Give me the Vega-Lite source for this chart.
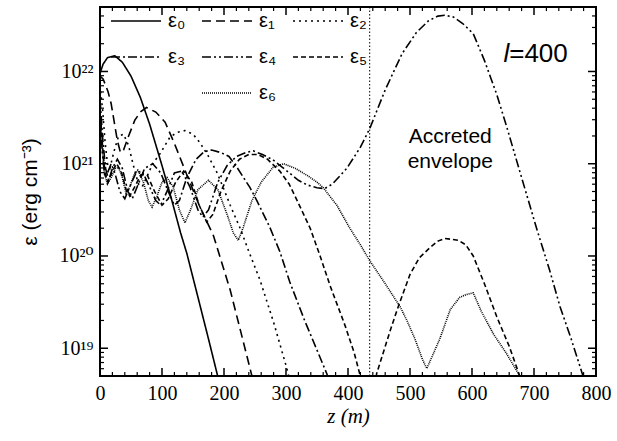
{
  "$schema": "https://vega.github.io/schema/vega-lite/v6.json",
  "width": 496,
  "height": 369,
  "autosize": {"type": "none"},
  "padding": {"left": 100, "top": 7, "right": 21, "bottom": 65},
  "background": "white",
  "config": {
    "view": {"stroke": "black", "strokeWidth": 2},
    "font": "Liberation Sans",
    "axis": {"grid": false, "domainColor": "black", "labelColor": "black", "titleColor": "black", "titleFontWeight": "normal"}
  },
  "datasets": {
    "xmaj": [{"t":0},{"t":100},{"t":200},{"t":300},{"t":400},{"t":500},{"t":600},{"t":700},{"t":800}],
    "xmin": [{"t":20},{"t":40},{"t":60},{"t":80},{"t":120},{"t":140},{"t":160},{"t":180},{"t":220},{"t":240},{"t":260},{"t":280},{"t":320},{"t":340},{"t":360},{"t":380},{"t":420},{"t":440},{"t":460},{"t":480},{"t":520},{"t":540},{"t":560},{"t":580},{"t":620},{"t":640},{"t":660},{"t":680},{"t":720},{"t":740},{"t":760},{"t":780}],
    "ymaj": [{"v":1e19},{"v":1e20},{"v":1e21},{"v":1e22}],
    "ymin": [{"v":6e18},{"v":7e18},{"v":8e18},{"v":9e18},{"v":2e19},{"v":3e19},{"v":4e19},{"v":5e19},{"v":6e19},{"v":7e19},{"v":8e19},{"v":9e19},{"v":2e20},{"v":3e20},{"v":4e20},{"v":5e20},{"v":6e20},{"v":7e20},{"v":8e20},{"v":9e20},{"v":2e21},{"v":3e21},{"v":4e21},{"v":5e21},{"v":6e21},{"v":7e21},{"v":8e21},{"v":9e21},{"v":2e22},{"v":3e22},{"v":4e22}],
    "curves": [
      {"m":"ε₀","z":0,"e":9.55e21},{"m":"ε₀","z":5,"e":1.20e22},{"m":"ε₀","z":12,"e":1.41e22},{"m":"ε₀","z":24,"e":1.48e22},{"m":"ε₀","z":36,"e":1.26e22},{"m":"ε₀","z":50,"e":8.91e21},{"m":"ε₀","z":65,"e":5.25e21},{"m":"ε₀","z":80,"e":2.69e21},{"m":"ε₀","z":100,"e":9.55e20},{"m":"ε₀","z":116,"e":3.98e20},{"m":"ε₀","z":130,"e":1.78e20},{"m":"ε₀","z":140,"e":1.07e20},{"m":"ε₀","z":160,"e":3.16e19},{"m":"ε₀","z":175,"e":1.26e19},{"m":"ε₀","z":189,"e":5.25e18},{"m":"ε₀","z":195,"e":3.55e18},

      {"m":"ε₁","z":0,"e":8.91e21},{"m":"ε₁","z":5,"e":8.32e21},{"m":"ε₁","z":13,"e":6.03e21},{"m":"ε₁","z":18,"e":4.47e21},{"m":"ε₁","z":23,"e":2.82e21},{"m":"ε₁","z":28,"e":1.78e21},{"m":"ε₁","z":33,"e":1.32e21},{"m":"ε₁","z":38,"e":1.41e21},{"m":"ε₁","z":45,"e":1.91e21},{"m":"ε₁","z":56,"e":2.95e21},{"m":"ε₁","z":65,"e":3.63e21},{"m":"ε₁","z":75,"e":4.07e21},{"m":"ε₁","z":90,"e":3.63e21},{"m":"ε₁","z":105,"e":2.82e21},{"m":"ε₁","z":120,"e":1.66e21},{"m":"ε₁","z":140,"e":7.59e20},{"m":"ε₁","z":160,"e":3.55e20},{"m":"ε₁","z":183,"e":1.66e20},{"m":"ε₁","z":210,"e":4.27e19},{"m":"ε₁","z":230,"e":1.26e19},{"m":"ε₁","z":245,"e":5.01e18},{"m":"ε₁","z":250,"e":3.55e18},

      {"m":"ε₂","z":0,"e":7.08e21},{"m":"ε₂","z":4,"e":3.98e21},{"m":"ε₂","z":8,"e":1.78e21},{"m":"ε₂","z":12,"e":1.0e21},{"m":"ε₂","z":16,"e":8.91e20},{"m":"ε₂","z":22,"e":1.32e21},{"m":"ε₂","z":30,"e":2.0e21},{"m":"ε₂","z":38,"e":2.09e21},{"m":"ε₂","z":46,"e":1.58e21},{"m":"ε₂","z":55,"e":8.91e20},{"m":"ε₂","z":62,"e":6.03e20},{"m":"ε₂","z":68,"e":5.62e20},{"m":"ε₂","z":75,"e":7.08e20},{"m":"ε₂","z":85,"e":1.0e21},{"m":"ε₂","z":97,"e":1.29e21},{"m":"ε₂","z":113,"e":1.95e21},{"m":"ε₂","z":125,"e":2.19e21},{"m":"ε₂","z":137,"e":2.29e21},{"m":"ε₂","z":150,"e":2.09e21},{"m":"ε₂","z":161,"e":1.70e21},{"m":"ε₂","z":175,"e":1.20e21},{"m":"ε₂","z":189,"e":7.94e20},{"m":"ε₂","z":200,"e":5.25e20},{"m":"ε₂","z":210,"e":3.55e20},{"m":"ε₂","z":226,"e":2.0e20},{"m":"ε₂","z":240,"e":1.12e20},{"m":"ε₂","z":258,"e":5.50e19},{"m":"ε₂","z":280,"e":1.91e19},{"m":"ε₂","z":301,"e":6.17e18},{"m":"ε₂","z":306,"e":4.47e18},

      {"m":"ε₃","z":0,"e":5.01e21},{"m":"ε₃","z":4,"e":2.0e21},{"m":"ε₃","z":9,"e":8.91e20},{"m":"ε₃","z":14,"e":6.61e20},{"m":"ε₃","z":20,"e":8.91e20},{"m":"ε₃","z":28,"e":1.12e21},{"m":"ε₃","z":36,"e":8.91e20},{"m":"ε₃","z":45,"e":5.01e20},{"m":"ε₃","z":52,"e":4.17e20},{"m":"ε₃","z":60,"e":5.62e20},{"m":"ε₃","z":72,"e":8.91e20},{"m":"ε₃","z":85,"e":1.0e21},{"m":"ε₃","z":98,"e":7.94e20},{"m":"ε₃","z":110,"e":5.01e20},{"m":"ε₃","z":120,"e":3.55e20},{"m":"ε₃","z":128,"e":3.98e20},{"m":"ε₃","z":140,"e":7.08e20},{"m":"ε₃","z":155,"e":1.12e21},{"m":"ε₃","z":168,"e":1.35e21},{"m":"ε₃","z":180,"e":1.41e21},{"m":"ε₃","z":195,"e":1.32e21},{"m":"ε₃","z":208,"e":1.20e21},{"m":"ε₃","z":221,"e":9.12e20},{"m":"ε₃","z":242,"e":5.50e20},{"m":"ε₃","z":253,"e":3.98e20},{"m":"ε₃","z":274,"e":2.04e20},{"m":"ε₃","z":290,"e":1.12e20},{"m":"ε₃","z":306,"e":5.25e19},{"m":"ε₃","z":330,"e":2.0e19},{"m":"ε₃","z":350,"e":9.55e18},{"m":"ε₃","z":366,"e":5.25e18},{"m":"ε₃","z":372,"e":3.98e18},

      {"m":"ε₄","z":0,"e":3.16e21},{"m":"ε₄","z":4,"e":1.26e21},{"m":"ε₄","z":8,"e":7.08e20},{"m":"ε₄","z":12,"e":7.94e20},{"m":"ε₄","z":18,"e":1.0e21},{"m":"ε₄","z":24,"e":7.94e20},{"m":"ε₄","z":32,"e":5.01e20},{"m":"ε₄","z":40,"e":4.17e20},{"m":"ε₄","z":48,"e":5.62e20},{"m":"ε₄","z":58,"e":7.94e20},{"m":"ε₄","z":68,"e":8.32e20},{"m":"ε₄","z":80,"e":5.62e20},{"m":"ε₄","z":90,"e":3.98e20},{"m":"ε₄","z":98,"e":3.55e20},{"m":"ε₄","z":108,"e":5.01e20},{"m":"ε₄","z":120,"e":7.94e20},{"m":"ε₄","z":132,"e":8.32e20},{"m":"ε₄","z":145,"e":5.62e20},{"m":"ε₄","z":158,"e":3.16e20},{"m":"ε₄","z":166,"e":2.63e20},{"m":"ε₄","z":175,"e":3.16e20},{"m":"ε₄","z":190,"e":6.31e20},{"m":"ε₄","z":205,"e":9.55e20},{"m":"ε₄","z":220,"e":1.20e21},{"m":"ε₄","z":235,"e":1.32e21},{"m":"ε₄","z":247,"e":1.38e21},{"m":"ε₄","z":262,"e":1.26e21},{"m":"ε₄","z":279,"e":1.10e21},{"m":"ε₄","z":300,"e":8.51e20},{"m":"ε₄","z":320,"e":6.61e20},{"m":"ε₄","z":334,"e":5.89e20},{"m":"ε₄","z":350,"e":5.50e20},{"m":"ε₄","z":362,"e":5.37e20},{"m":"ε₄","z":375,"e":6.03e20},{"m":"ε₄","z":398,"e":8.91e20},{"m":"ε₄","z":420,"e":1.51e21},{"m":"ε₄","z":435,"e":2.40e21},{"m":"ε₄","z":460,"e":6.31e21},{"m":"ε₄","z":487,"e":1.55e22},{"m":"ε₄","z":510,"e":2.63e22},{"m":"ε₄","z":530,"e":3.55e22},{"m":"ε₄","z":545,"e":3.98e22},{"m":"ε₄","z":556,"e":4.07e22},{"m":"ε₄","z":570,"e":3.89e22},{"m":"ε₄","z":585,"e":3.31e22},{"m":"ε₄","z":602,"e":2.57e22},{"m":"ε₄","z":620,"e":1.32e22},{"m":"ε₄","z":640,"e":5.62e21},{"m":"ε₄","z":656,"e":2.51e21},{"m":"ε₄","z":680,"e":7.08e20},{"m":"ε₄","z":705,"e":1.91e20},{"m":"ε₄","z":725,"e":7.08e19},{"m":"ε₄","z":742,"e":2.82e19},{"m":"ε₄","z":760,"e":1.26e19},{"m":"ε₄","z":779,"e":5.01e18},{"m":"ε₄","z":785,"e":3.72e18},

      {"m":"ε₅","z":0,"e":3.98e21},{"m":"ε₅","z":4,"e":1.58e21},{"m":"ε₅","z":8,"e":7.94e20},{"m":"ε₅","z":13,"e":6.31e20},{"m":"ε₅","z":20,"e":8.32e20},{"m":"ε₅","z":27,"e":1.0e21},{"m":"ε₅","z":35,"e":7.94e20},{"m":"ε₅","z":42,"e":5.25e20},{"m":"ε₅","z":48,"e":4.47e20},{"m":"ε₅","z":56,"e":5.62e20},{"m":"ε₅","z":66,"e":7.59e20},{"m":"ε₅","z":76,"e":7.59e20},{"m":"ε₅","z":88,"e":5.01e20},{"m":"ε₅","z":100,"e":3.55e20},{"m":"ε₅","z":110,"e":4.17e20},{"m":"ε₅","z":122,"e":6.31e20},{"m":"ε₅","z":135,"e":8.32e20},{"m":"ε₅","z":148,"e":6.31e20},{"m":"ε₅","z":160,"e":3.55e20},{"m":"ε₅","z":172,"e":2.34e20},{"m":"ε₅","z":182,"e":2.82e20},{"m":"ε₅","z":195,"e":5.01e20},{"m":"ε₅","z":210,"e":8.32e20},{"m":"ε₅","z":225,"e":1.12e21},{"m":"ε₅","z":240,"e":1.26e21},{"m":"ε₅","z":255,"e":1.26e21},{"m":"ε₅","z":270,"e":1.12e21},{"m":"ε₅","z":290,"e":8.32e20},{"m":"ε₅","z":305,"e":6.03e20},{"m":"ε₅","z":318,"e":3.98e20},{"m":"ε₅","z":339,"e":2.0e20},{"m":"ε₅","z":355,"e":1.0e20},{"m":"ε₅","z":371,"e":4.79e19},{"m":"ε₅","z":395,"e":1.78e19},{"m":"ε₅","z":410,"e":8.91e18},{"m":"ε₅","z":419,"e":5.25e18},{"m":"ε₅","z":433,"e":1.0e16},{"m":"ε₅","z":446,"e":5.25e18},{"m":"ε₅","z":468,"e":1.55e19},{"m":"ε₅","z":481,"e":2.82e19},{"m":"ε₅","z":500,"e":6.31e19},{"m":"ε₅","z":515,"e":9.55e19},{"m":"ε₅","z":532,"e":1.23e20},{"m":"ε₅","z":545,"e":1.45e20},{"m":"ε₅","z":556,"e":1.55e20},{"m":"ε₅","z":578,"e":1.48e20},{"m":"ε₅","z":590,"e":1.32e20},{"m":"ε₅","z":602,"e":1.0e20},{"m":"ε₅","z":620,"e":5.01e19},{"m":"ε₅","z":640,"e":2.19e19},{"m":"ε₅","z":660,"e":1.05e19},{"m":"ε₅","z":677,"e":5.01e18},{"m":"ε₅","z":682,"e":3.80e18},

      {"m":"ε₆","z":0,"e":3.16e21},{"m":"ε₆","z":3,"e":1.58e21},{"m":"ε₆","z":7,"e":7.94e20},{"m":"ε₆","z":12,"e":6.03e20},{"m":"ε₆","z":18,"e":7.08e20},{"m":"ε₆","z":25,"e":8.91e20},{"m":"ε₆","z":30,"e":9.12e20},{"m":"ε₆","z":36,"e":7.08e20},{"m":"ε₆","z":42,"e":4.79e20},{"m":"ε₆","z":48,"e":5.62e20},{"m":"ε₆","z":55,"e":7.59e20},{"m":"ε₆","z":61,"e":8.51e20},{"m":"ε₆","z":70,"e":6.31e20},{"m":"ε₆","z":78,"e":3.98e20},{"m":"ε₆","z":84,"e":3.39e20},{"m":"ε₆","z":92,"e":4.47e20},{"m":"ε₆","z":100,"e":6.31e20},{"m":"ε₆","z":108,"e":7.08e20},{"m":"ε₆","z":118,"e":5.62e20},{"m":"ε₆","z":128,"e":3.16e20},{"m":"ε₆","z":137,"e":2.29e20},{"m":"ε₆","z":146,"e":3.16e20},{"m":"ε₆","z":158,"e":5.25e20},{"m":"ε₆","z":175,"e":6.61e20},{"m":"ε₆","z":190,"e":5.25e20},{"m":"ε₆","z":205,"e":2.82e20},{"m":"ε₆","z":215,"e":1.78e20},{"m":"ε₆","z":223,"e":1.48e20},{"m":"ε₆","z":231,"e":2.04e20},{"m":"ε₆","z":245,"e":3.98e20},{"m":"ε₆","z":260,"e":6.31e20},{"m":"ε₆","z":279,"e":9.12e20},{"m":"ε₆","z":296,"e":1.0e21},{"m":"ε₆","z":315,"e":8.91e20},{"m":"ε₆","z":335,"e":7.41e20},{"m":"ε₆","z":350,"e":6.31e20},{"m":"ε₆","z":360,"e":5.50e20},{"m":"ε₆","z":382,"e":3.55e20},{"m":"ε₆","z":403,"e":2.0e20},{"m":"ε₆","z":420,"e":1.32e20},{"m":"ε₆","z":435,"e":8.91e19},{"m":"ε₆","z":460,"e":5.01e19},{"m":"ε₆","z":484,"e":2.82e19},{"m":"ε₆","z":495,"e":2.0e19},{"m":"ε₆","z":508,"e":1.26e19},{"m":"ε₆","z":520,"e":7.59e18},{"m":"ε₆","z":527,"e":6.03e18},{"m":"ε₆","z":535,"e":7.94e18},{"m":"ε₆","z":548,"e":1.26e19},{"m":"ε₆","z":565,"e":2.63e19},{"m":"ε₆","z":580,"e":3.55e19},{"m":"ε₆","z":590,"e":3.80e19},{"m":"ε₆","z":602,"e":3.98e19},{"m":"ε₆","z":615,"e":2.51e19},{"m":"ε₆","z":635,"e":1.41e19},{"m":"ε₆","z":655,"e":8.91e18},{"m":"ε₆","z":677,"e":5.01e18},{"m":"ε₆","z":682,"e":3.98e18}
    ]
  },
  "resolve": {"axis": {"x": "independent", "y": "independent"}},
  "layer": [
    {
      "data": {"name": "curves"},
      "mark": {"type": "line", "clip": true, "strokeWidth": 1.6, "color": "black"},
      "encoding": {
        "x": {
          "field": "z", "type": "quantitative",
          "scale": {"domain": [0, 800], "nice": false, "zero": false},
          "axis": {"orient": "bottom", "values": [0,100,200,300,400,500,600,700,800], "format": "d", "ticks": false, "labelPadding": 7, "labelFont": "Liberation Serif", "labelFontSize": 20, "labelFlush": false, "domain": false, "title": "z (m)", "titleFont": "Liberation Serif", "titleFontSize": 21, "titleFontStyle": "italic", "titlePadding": 2}
        },
        "y": {
          "field": "e", "type": "quantitative",
          "scale": {"type": "log", "domain": [5e18, 5e22], "nice": false},
          "axis": {"orient": "left", "values": [1e19, 1e20, 1e21, 1e22], "labelExpr": "datum.value >= 9e21 ? '10²²' : datum.value >= 9e20 ? '10²¹' : datum.value >= 9e19 ? '10²⁰' : '10¹⁹'", "ticks": false, "labelPadding": 7, "labelFont": "Liberation Serif, DejaVu Serif", "labelFontSize": 20, "domain": false, "title": "ε (erg cm⁻³)", "titleFont": "Liberation Sans", "titleFontSize": 21, "titlePadding": 18}
        },
        "strokeDash": {
          "field": "m", "type": "nominal",
          "scale": {"domain": ["ε₀","ε₁","ε₂","ε₃","ε₄","ε₅"," ","ε₆"], "range": [[1,0],[9,5],[2,4],[9,3,2,3],[9,3,2,3,2,3],[5,3],[0,100],[1,1]]},
          "legend": {"orient": "none", "direction": "horizontal", "legendX": 10, "legendY": -12, "columns": 3, "title": null, "symbolType": "stroke", "symbolSize": 2500, "symbolStrokeWidth": 1.5, "symbolStrokeColor": "black", "labelFont": "Liberation Sans", "labelFontSize": 20, "labelOffset": 6, "columnPadding": 13, "rowPadding": 0, "labelColor": "black"}
        }
      }
    },
    {
      "data": {"name": "xmaj"},
      "mark": {"type": "rule", "strokeWidth": 1.5, "color": "black"},
      "encoding": {"x": {"field": "t", "type": "quantitative", "axis": null}, "y": {"datum": 5e18, "type": "quantitative", "axis": null}, "y2": {"datum": 6.1e18}}
    },
    {
      "data": {"name": "xmaj"},
      "mark": {"type": "rule", "strokeWidth": 1.5, "color": "black"},
      "encoding": {"x": {"field": "t", "type": "quantitative", "axis": null}, "y": {"datum": 5e22, "type": "quantitative", "axis": null}, "y2": {"datum": 4.1e22}}
    },
    {
      "data": {"name": "xmin"},
      "mark": {"type": "rule", "strokeWidth": 1.2, "color": "black"},
      "encoding": {"x": {"field": "t", "type": "quantitative", "axis": null}, "y": {"datum": 5e18, "type": "quantitative", "axis": null}, "y2": {"datum": 5.52e18}}
    },
    {
      "data": {"name": "xmin"},
      "mark": {"type": "rule", "strokeWidth": 1.2, "color": "black"},
      "encoding": {"x": {"field": "t", "type": "quantitative", "axis": null}, "y": {"datum": 5e22, "type": "quantitative", "axis": null}, "y2": {"datum": 4.52e22}}
    },
    {
      "data": {"name": "ymaj"},
      "mark": {"type": "rule", "strokeWidth": 1.5, "color": "black"},
      "encoding": {"y": {"field": "v", "type": "quantitative", "axis": null}, "x": {"datum": 0, "type": "quantitative", "axis": null}, "x2": {"datum": 12.9}}
    },
    {
      "data": {"name": "ymaj"},
      "mark": {"type": "rule", "strokeWidth": 1.5, "color": "black"},
      "encoding": {"y": {"field": "v", "type": "quantitative", "axis": null}, "x": {"datum": 800, "type": "quantitative", "axis": null}, "x2": {"datum": 787.1}}
    },
    {
      "data": {"name": "ymin"},
      "mark": {"type": "rule", "strokeWidth": 1.2, "color": "black"},
      "encoding": {"y": {"field": "v", "type": "quantitative", "axis": null}, "x": {"datum": 0, "type": "quantitative", "axis": null}, "x2": {"datum": 6.45}}
    },
    {
      "data": {"name": "ymin"},
      "mark": {"type": "rule", "strokeWidth": 1.2, "color": "black"},
      "encoding": {"y": {"field": "v", "type": "quantitative", "axis": null}, "x": {"datum": 800, "type": "quantitative", "axis": null}, "x2": {"datum": 793.5}}
    },
    {
      "data": {"values": [{}]},
      "mark": {"type": "text", "text": ["Accreted", "envelope"], "font": "Liberation Sans", "fontSize": 21, "lineHeight": 25, "align": "center", "baseline": "alphabetic", "color": "black"},
      "encoding": {
        "x": {"datum": 565, "type": "quantitative", "axis": null},
        "y": {"datum": 1.66e21, "type": "quantitative", "axis": null}
      }
    },
    {
      "data": {"values": [{}]},
      "mark": {"type": "text", "text": "l", "font": "Liberation Sans", "fontSize": 26, "fontStyle": "italic", "align": "right", "baseline": "alphabetic", "color": "black"},
      "encoding": {
        "x": {"datum": 660, "type": "quantitative", "axis": null},
        "y": {"datum": 1.26e22, "type": "quantitative", "axis": null}
      }
    },
    {
      "data": {"values": [{}]},
      "mark": {"type": "text", "text": "=400", "font": "Liberation Sans", "fontSize": 26, "align": "left", "baseline": "alphabetic", "color": "black"},
      "encoding": {
        "x": {"datum": 660, "type": "quantitative", "axis": null},
        "y": {"datum": 1.26e22, "type": "quantitative", "axis": null}
      }
    },
    {
      "data": {"values": [{}]},
      "mark": {"type": "rule", "strokeDash": [1.5, 2], "strokeWidth": 1, "color": "black"},
      "encoding": {
        "x": {"datum": 435, "type": "quantitative", "axis": null}
      }
    }
  ]
}
